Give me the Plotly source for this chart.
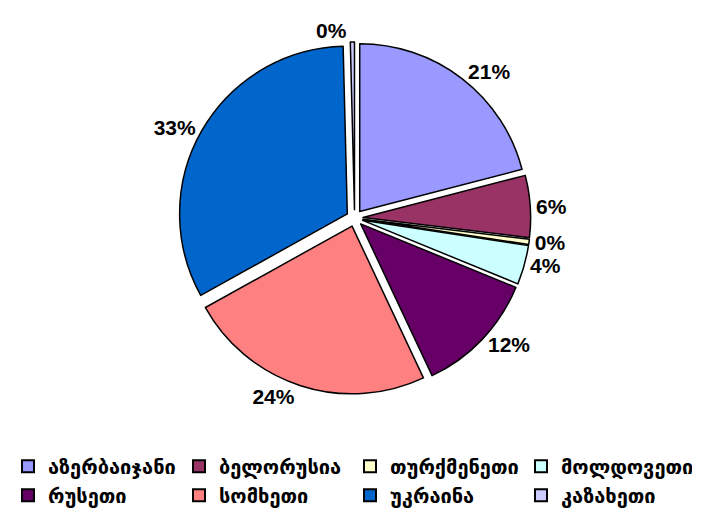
import plotly.graph_objects as go

countries = ["აზერბაიჯანი", "ბელორუსია", "თურქმენეთი", "მოლდოვეთი",
             "რუსეთი", "სომხეთი", "უკრაინა", "კაზახეთი"]
shares = [21.1, 6.0, 0.5, 3.8, 11.9, 24.1, 32.9, 0.4]
colors = ["#9999FF", "#993366", "#FFFFCC", "#CCFFFF",
          "#660066", "#FF8080", "#0066CC", "#CCCCFF"]
pulls = [0.05, 0.05, 0.05, 0.05, 0.05, 0.05, 0.05, 0.05]

fig = go.Figure(go.Pie(
    labels=countries,
    values=shares,
    sort=False,
    direction="clockwise",
    rotation=0,
    pull=pulls,
    marker=dict(colors=colors, line=dict(color="black", width=1.5)),
    textinfo="percent",
    texttemplate="%{percent:.0%}",
    textposition="outside",
    outsidetextfont=dict(family="Liberation Sans", size=21, color="black", weight="bold"),
    domain=dict(x=[0.2385, 0.731], y=[0.25, 0.934]),
    hoverinfo="label+percent",
))

fig.update_layout(
    width=715, height=515,
    margin=dict(l=0, r=0, t=0, b=0, autoexpand=False),
    paper_bgcolor="white",
    plot_bgcolor="white",
    showlegend=True,
    legend=dict(
        orientation="h",
        x=0, y=0.148, xanchor="left", yanchor="top",
        font=dict(family="DejaVu Sans", size=20, color="black", weight="bold"),
        entrywidth=126, entrywidthmode="pixels",
        traceorder="normal",
        itemsizing="constant",
    ),
)

fig.write_html("out.html")
